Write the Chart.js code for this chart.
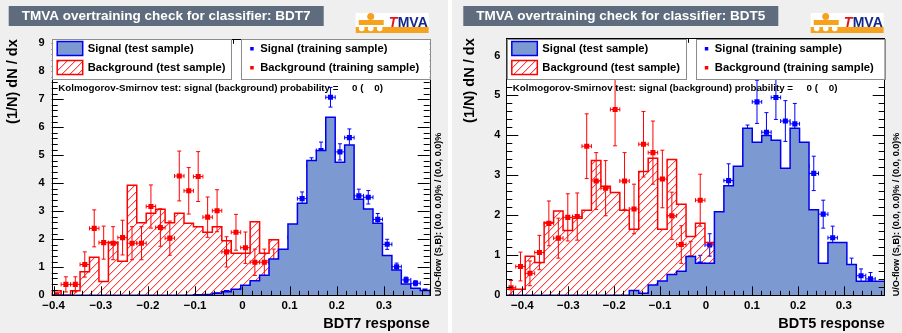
<!DOCTYPE html>
<html>
<head>
<meta charset="utf-8">
<script src="https://cdn.jsdelivr.net/npm/chart.js@4.4.1/dist/chart.umd.min.js"></script>
<style>
  html, body { margin: 0; padding: 0; background: #fff; }
  #wrap { position: relative; width: 902px; height: 333px; }
  #wrap canvas { position: absolute; top: 0; }
  #c7 { left: 0; }
  #c5 { left: 452px; }
</style>
</head>
<body>
<div id="wrap">
  <canvas id="c7" width="448" height="333"></canvas>
  <canvas id="c5" width="450" height="333"></canvas>
</div>
<script>
// ---------- data (40 bins per histogram) ----------
const NBINS = 40;

// BDT7
const bdt7Range = [-0.404, 0.397];
const bdt7YMax = 9.14;
const bdt7SigTest = [0, 0, 0, 0, 0, 0, 0, 0, 0, 0, 0, 0, 0, 0, 0, 0.02, 0.03, 0.07, 0.13, 0.22,
  0.36, 0.52, 0.72, 1.30, 1.64, 2.55, 3.29, 4.81, 5.17, 6.36, 4.75, 5.37, 3.43, 3.08, 2.57, 1.42, 0.90, 0.40, 0.25, 0.17];
const bdt7BkgTest = [0.16, 0, 0.16, 0.84, 1.36, 0.49, 1.89, 1.22, 3.93, 2.59, 2.93, 3.07, 2.59, 2.93, 2.57, 2.45, 2.25, 2.45, 1.95, 1.50,
  1.50, 2.63, 1.50, 1.98, 0.75, 1.07, 1.07, 1.07, 0.55, 0.55, 0.34, 0.34, 0.34, 0.05, 0.05, 0.05, 0, 0, 0, 0];
const bdt7SigTrain = [null, null, null, null, null, null, null, null, null, null, null, null, null, null, null, null, null, 0.02, 0.10, 0.10,
  0.19, 0.39, 0.57, 0.85, 1.35, 2.07, 3.45, 4.63, 5.17, 7.07, 5.12, 5.63, 3.55, 3.50, 2.71, 1.82, 1.02, 0.55, 0.43, 0.15];
const bdt7SigTrainErr = [null, null, null, null, null, null, null, null, null, null, null, null, null, null, null, null, null, 0.02, 0.04, 0.04,
  0.06, 0.08, 0.10, 0.12, 0.15, 0.19, 0.24, 0.28, 0.30, 0.35, 0.29, 0.31, 0.24, 0.24, 0.21, 0.18, 0.13, 0.10, 0.09, 0.05];
const bdt7BkgTrain = [0.02, 0.39, 0.39, 1.10, 2.39, 1.88, 1.86, 2.06, 1.86, 1.86, 3.17, 2.42, 2.04, 4.26, 3.73, 4.24, 2.79, 3.02, 1.55, 2.25,
  1.70, 1.18, 1.18, 1.18, 0.60, 0.46, 0.76, 0.10, 0.15, null, 0.02, 0.02, null, null, null, null, null, null, null, null];
const bdt7BkgTrainErr = [0.06, 0.27, 0.27, 0.45, 0.66, 0.59, 0.59, 0.62, 0.59, 0.59, 0.77, 0.67, 0.61, 0.89, 0.83, 0.89, 0.72, 0.75, 0.54, 0.64,
  0.56, 0.47, 0.47, 0.47, 0.33, 0.29, 0.37, 0.14, 0.17, null, 0.06, 0.06, null, null, null, null, null, null, null, null];

// BDT5
const bdt5Range = [-0.435, 0.389];
const bdt5YMax = 6.43;
const bdt5SigTest = [0, 0, 0, 0, 0, 0, 0, 0, 0, 0, 0, 0, 0, 0.12, 0.05, 0.26, 0.36, 0.52, 0.60, 0.97,
  0.80, 0.80, 2.09, 2.74, 3.23, 4.18, 3.83, 4.00, 3.88, 3.18, 4.18, 3.83, 2.14, 0.80, 1.32, 1.32, 0.77, 0.35, 0.35, 0.35];
const bdt5BkgTest = [0.15, 0.15, 0.98, 0.82, 1.82, 2.11, 1.62, 1.93, 2.13, 3.37, 2.73, 2.57, 2.13, 1.65, 3.10, 3.43, 1.65, 3.40, 2.28, 1.47,
  1.80, 1.32, 0.80, 0.55, 0.34, 1.53, 0.34, 0.17, 0.17, 0.38, 0.38, 0.03, 0.03, 0.17, 0.17, 0, 0, 0, 0, 0];
const bdt5SigTrain = [null, null, null, null, null, null, null, null, null, null, null, null, null, null, null, null, 0.14, null, 0.25, 0.31,
  0.78, 1.26, 1.38, 2.87, 2.58, 3.78, 4.84, 4.08, 4.95, 4.36, 4.29, 3.23, 3.05, 2.03, 1.44, 0.61, 0.72, 0.49, 0.41, 0.13];
const bdt5SigTrainErr = [null, null, null, null, null, null, null, null, null, null, null, null, null, null, null, null, 0.09, null, 0.12, 0.14,
  0.22, 0.28, 0.29, 0.42, 0.39, 0.48, 0.54, 0.49, 0.55, 0.51, 0.51, 0.44, 0.43, 0.35, 0.29, 0.19, 0.21, 0.17, 0.16, 0.09];
const bdt5BkgTrain = [0.19, 0.72, 0.55, 1.07, 1.80, 1.43, 1.95, 1.97, 3.73, 2.86, 2.68, 4.65, 2.86, 2.16, 3.78, 3.57, 2.91, 1.99, 1.27, 0.94,
  2.38, 0.22, 0.77, 0.55, 0.21, 0.35, 0.39, 0.01, 0.01, 0.01, 0.01, null, null, null, null, null, null, null, null, null];
const bdt5BkgTrainErr = [0.18, 0.36, 0.31, 0.43, 0.56, 0.50, 0.59, 0.59, 0.81, 0.71, 0.69, 0.91, 0.71, 0.62, 0.82, 0.79, 0.72, 0.59, 0.47, 0.41,
  0.65, 0.20, 0.37, 0.31, 0.19, 0.25, 0.26, 0.04, 0.04, 0.04, 0.04, null, null, null, null, null, null, null, null, null];

const legendLabels = ['Signal (test sample)', 'Background (test sample)', 'Signal (training sample)', 'Background (training sample)'];
const ksText = 'Kolmogorov-Smirnov test: signal (background) probability =     0 (    0)';
const uoText = 'U/O-flow (S,B): (0.0, 0.0)% / (0.0, 0.0)%';

// ---------- styles ----------
const FONT = '"Liberation Sans", Arial, Helvetica, sans-serif';
const SIG_FILL = '#7d99d1';
const SIG_LINE = '#0000ee';
const BKG_LINE = '#ff0000';

// ---------- helpers ----------
function binEdges(range) {
  const w = (range[1] - range[0]) / NBINS;
  const e = [];
  for (let i = 0; i <= NBINS; i++) e.push(range[0] + i * w);
  return e;
}

// step outline of a histogram, closed down to zero at both ends
function histLine(edges, vals) {
  const pts = [{ x: edges[0], y: 0 }];
  vals.forEach((v, i) => pts.push({ x: edges[i], y: v }));
  pts.push({ x: edges[NBINS], y: vals[NBINS - 1] });
  pts.push({ x: edges[NBINS], y: 0 });
  return pts;
}

function trainPoints(edges, vals, errs) {
  const pts = [];
  vals.forEach((v, i) => {
    if (v === null) return;
    pts.push({ x: (edges[i] + edges[i + 1]) / 2, y: v, ex: (edges[i + 1] - edges[i]) / 2, ey: errs[i] });
  });
  return pts;
}

// red "/" hatch, built pixel by pixel
let hatchCache = null;
function hatch(ctx) {
  if (hatchCache) return ctx.createPattern(hatchCache, 'repeat');
  const n = 8;
  const c = document.createElement('canvas');
  c.width = n; c.height = n;
  const g = c.getContext('2d');
  const img = g.createImageData(n, n);
  const put = (px, py, a) => {
    const k = ((py % n) * n + (px % n)) * 4;
    img.data[k] = 255; img.data[k + 1] = 0; img.data[k + 2] = 0;
    img.data[k + 3] = Math.max(img.data[k + 3], a);
  };
  for (let i = 0; i < n; i++) {
    put(i, n - 1 - i, 190);
    put(i, n - i, 55);
  }
  g.putImageData(img, 0, 0);
  hatchCache = c;
  return ctx.createPattern(c, 'repeat');
}

function fitFont(ctx, text, width, weight) {
  ctx.font = `${weight} 20px ${FONT}`;
  const size = 20 * width / ctx.measureText(text).width;
  ctx.font = `${weight} ${size.toFixed(2)}px ${FONT}`;
  return size;
}

function fmtX(v) {
  if (Math.abs(v) < 1e-9) return '0';
  return (v < 0 ? '\u2212' : '') + Math.abs(v).toFixed(1);
}

// ---------- plugins ----------
const errorBars = {
  id: 'errorBars',
  beforeDatasetDraw(chart, args) {
    const ds = chart.data.datasets[args.index];
    if (!ds.errColor) return;
    const { ctx, chartArea: a, scales: { x, y } } = chart;
    ctx.save();
    ctx.beginPath();
    ctx.rect(a.left, a.top, a.right - a.left, a.bottom - a.top);
    ctx.clip();
    ctx.strokeStyle = ds.errColor;
    ctx.lineWidth = 1;
    ctx.beginPath();
    ds.data.forEach(p => {
      const px = x.getPixelForValue(p.x), py = y.getPixelForValue(p.y);
      const x0 = x.getPixelForValue(p.x - p.ex), x1 = x.getPixelForValue(p.x + p.ex);
      const y0 = y.getPixelForValue(p.y - p.ey), y1 = y.getPixelForValue(p.y + p.ey);
      ctx.moveTo(x0, py); ctx.lineTo(x1, py);
      ctx.moveTo(x0, py - 2); ctx.lineTo(x0, py + 2);
      ctx.moveTo(x1, py - 2); ctx.lineTo(x1, py + 2);
      ctx.moveTo(px, y0); ctx.lineTo(px, y1);
      ctx.moveTo(px - 2, y0); ctx.lineTo(px + 2, y0);
      ctx.moveTo(px - 2, y1); ctx.lineTo(px + 2, y1);
    });
    ctx.stroke();
    ctx.restore();
  }
};

function drawLogo(ctx, lx, ly) {
  ctx.fillStyle = '#ffffff';
  ctx.fillRect(lx, ly, 73, 20);
  ctx.fillStyle = '#f5a31f';
  ctx.fillRect(lx, ly + 14, 73, 6);
  ctx.beginPath(); ctx.arc(lx + 15, ly + 3.5, 3.5, 0, Math.PI * 2); ctx.fill();
  ctx.fillRect(lx + 3, ly + 7, 25, 5);
  ctx.fillStyle = '#ffffff';
  [6, 15, 24].forEach(cx => { ctx.beginPath(); ctx.arc(lx + cx, ly + 15.5, 2.8, 0, Math.PI * 2); ctx.fill(); });
  ctx.textBaseline = 'alphabetic';
  ctx.textAlign = 'left';
  ctx.font = `italic bold 14px ${FONT}`;
  ctx.fillStyle = '#e3151b';
  ctx.fillText('T', lx + 33, ly + 14);
  ctx.font = `bold 14px ${FONT}`;
  ctx.fillStyle = '#13288a';
  ctx.fillText('MVA', lx + 42, ly + 14);
}

const tmvaDecor = {
  id: 'tmvaDecor',
  beforeDraw(chart) {
    const { ctx, chartArea: a } = chart;
    ctx.save();
    ctx.fillStyle = '#efefef';
    ctx.fillRect(0, 0, chart.width, chart.height);
    ctx.fillStyle = '#ffffff';
    ctx.fillRect(a.left, a.top, a.right - a.left, a.bottom - a.top);
    ctx.restore();
  },
  afterDraw(chart, args, o) {
    const { ctx, chartArea: a, scales: { x, y } } = chart;
    const L = a.left, R = a.right, T = a.top, B = a.bottom;
    ctx.save();

    // ticks inside the frame, all four sides
    ctx.strokeStyle = '#000';
    ctx.lineWidth = 1;
    ctx.beginPath();
    for (let k = Math.ceil(x.min / 0.02); k * 0.02 <= x.max; k++) {
      const px = Math.round(x.getPixelForValue(k * 0.02)) + 0.5;
      const len = k % 5 === 0 ? 9 : 4.5;
      ctx.moveTo(px, B); ctx.lineTo(px, B - len);
      ctx.moveTo(px, T); ctx.lineTo(px, T + len);
    }
    for (let k = 0; k * 0.2 <= y.max; k++) {
      const py = Math.round(y.getPixelForValue(k * 0.2)) + 0.5;
      const len = k % 5 === 0 ? 12 : 6;
      ctx.moveTo(L, py); ctx.lineTo(L + len, py);
      ctx.moveTo(R, py); ctx.lineTo(R - len, py);
    }
    ctx.stroke();
    ctx.strokeRect(Math.round(L) + 0.5, Math.round(T) + 0.5, Math.round(R - L), Math.round(B - T));

    // legend boxes
    ctx.fillStyle = '#ffffff';
    ctx.strokeStyle = '#8c8c8c';
    [[L + 0.5, L + 179.5], [L + 189.5, R]].forEach(([x0, x1]) => {
      ctx.fillRect(x0, 39, x1 - x0, 40);
      ctx.strokeRect(Math.round(x0) + 0.5, 39.5, Math.round(x1 - x0), 40);
    });
    ctx.fillStyle = SIG_FILL;
    ctx.fillRect(L + 5.5, 41.5, 25.5, 14);
    ctx.strokeStyle = SIG_LINE;
    ctx.lineWidth = 1.5;
    ctx.strokeRect(L + 5.5, 41.5, 25.5, 14);
    ctx.fillStyle = hatch(ctx);
    ctx.fillRect(L + 5.5, 60.5, 25.5, 14);
    ctx.strokeStyle = BKG_LINE;
    ctx.strokeRect(L + 5.5, 60.5, 25.5, 14);
    ctx.fillStyle = '#0000ff';
    ctx.fillRect(L + 198.5, 47, 3.5, 3.5);
    ctx.fillStyle = '#ff0000';
    ctx.fillRect(L + 198.5, 66, 3.5, 3.5);

    ctx.fillStyle = '#000';
    ctx.textBaseline = 'middle';
    ctx.textAlign = 'left';
    fitFont(ctx, legendLabels[0], 106, 'bold');
    ctx.fillText(legendLabels[0], L + 36, 48.8);
    ctx.fillText(legendLabels[1], L + 36, 67.8);
    ctx.fillText(legendLabels[2], L + 208.5, 48.8);
    ctx.fillText(legendLabels[3], L + 208.5, 67.8);

    // KS text
    fitFont(ctx, ksText, 325, 'bold');
    ctx.fillText(ksText, L + 6.5, 88.5);

    // under/overflow note, vertical on the right
    ctx.save();
    ctx.translate(R + o.uoOffset, B + 1);
    ctx.rotate(-Math.PI / 2);
    fitFont(ctx, uoText, 164, 'bold');
    ctx.fillText(uoText, 0, 0);
    ctx.restore();

    // title box
    const tx = L - 43;
    ctx.fillStyle = '#5e6c7e';
    ctx.fillRect(tx, 6, 315, 20);
    ctx.fillStyle = '#ffffff';
    fitFont(ctx, o.title, 289, 'bold');
    ctx.fillText(o.title, tx + 13, 16.5);

    drawLogo(ctx, R - 74, 13);
    ctx.restore();
  }
};

// ---------- chart builder ----------
function makePanel(id, range, yMax, sigTest, bkgTest, sigTrain, sigErr, bkgTrain, bkgErr, opts) {
  const edges = binEdges(range);
  const canvas = document.getElementById(id);
  const ctx = canvas.getContext('2d');
  return new Chart(ctx, {
    type: 'scatter',
    data: {
      datasets: [
        { type: 'line', data: histLine(edges, sigTest), stepped: 'before', fill: 'origin', tension: 0,
          backgroundColor: SIG_FILL, borderColor: SIG_LINE, borderWidth: 1.5, pointRadius: 0 },
        { type: 'line', data: histLine(edges, bkgTest), stepped: 'before', fill: 'origin', tension: 0,
          backgroundColor: hatch(ctx), borderColor: BKG_LINE, borderWidth: 1.5, pointRadius: 0 },
        { data: trainPoints(edges, sigTrain, sigErr), errColor: '#0000ff', backgroundColor: '#0000ff',
          borderWidth: 0, pointStyle: 'rect', pointRadius: 3.6 },
        { data: trainPoints(edges, bkgTrain, bkgErr), errColor: '#ff0000', backgroundColor: '#ff0000',
          borderWidth: 0, pointStyle: 'rect', pointRadius: 3.6 }
      ]
    },
    options: {
      responsive: false,
      animation: false,
      devicePixelRatio: 1,
      layout: { padding: { top: opts.top, right: opts.right, left: 0, bottom: 0 } },
      plugins: { legend: { display: false }, tooltip: { enabled: false }, tmvaDecor: opts },
      scales: {
        x: {
          type: 'linear', min: range[0], max: range[1],
          afterFit: s => { s.height = 37.7; },
          grid: { display: false, drawTicks: false }, border: { display: false },
          ticks: { stepSize: 0.1, includeBounds: false, padding: 4, maxRotation: 0, autoSkip: false,
            color: '#000', font: { family: FONT, size: 11.5, weight: 'bold' }, callback: fmtX },
          title: { display: true, text: opts.xTitle, align: 'end', color: '#000',
            font: { family: FONT, size: 14.5, weight: 'bold' }, padding: { top: 0, bottom: 0 } }
        },
        y: {
          min: 0, max: yMax,
          afterFit: s => { s.width = opts.left; },
          grid: { display: false, drawTicks: false }, border: { display: false },
          ticks: { stepSize: 1, includeBounds: false, padding: opts.yPad,
            color: '#000', font: { family: FONT, size: 11, weight: 'bold' } },
          title: { display: true, text: '(1/N) dN / dx', align: 'end', color: '#000',
            font: { family: FONT, size: 14.5, weight: 'bold' }, padding: { top: opts.yTitlePad, bottom: 0 } }
        }
      }
    },
    plugins: [errorBars, tmvaDecor]
  });
}

// ---------- init ----------
makePanel('c7', bdt7Range, bdt7YMax, bdt7SigTest, bdt7BkgTest, bdt7SigTrain, bdt7SigTrainErr, bdt7BkgTrain, bdt7BkgTrainErr,
  { title: 'TMVA overtraining check for classifier: BDT7', xTitle: 'BDT7 response',
    left: 51.7, right: 18.3, top: 39.3, yPad: 7, yTitlePad: 4, uoOffset: 8.6 });
makePanel('c5', bdt5Range, bdt5YMax, bdt5SigTest, bdt5BkgTest, bdt5SigTrain, bdt5SigTrainErr, bdt5BkgTrain, bdt5BkgTrainErr,
  { title: 'TMVA overtraining check for classifier: BDT5', xTitle: 'BDT5 response',
    left: 54.3, right: 17.3, top: 38.3, yPad: 6, yTitlePad: 9.5, uoOffset: 12 });
</script>
</body>
</html>
